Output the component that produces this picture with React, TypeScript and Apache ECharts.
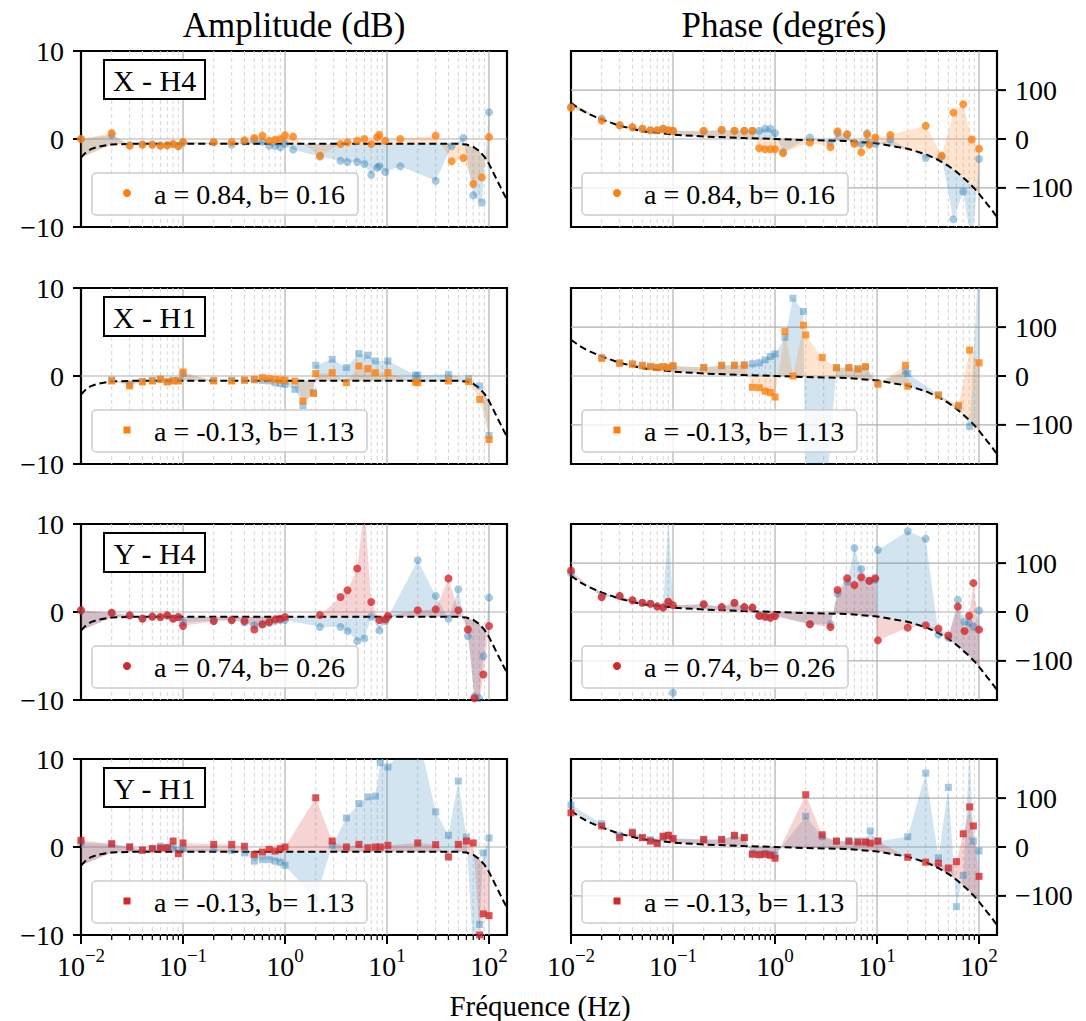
import React, { useEffect, useRef } from "react";
import * as echarts from "echarts";

const FONT = "Liberation Serif";
const ORANGE = "#ff7f0e";
const RED = "#d62728";
const BLUE = "#1f77b4";

// ---- model curves (dashed) ----
const modelFreq = [0.01, 0.011, 0.0125, 0.015, 0.02, 0.03, 0.05, 0.1, 0.2, 0.5, 1, 2, 5, 10, 20, 30, 40, 50, 60, 70, 80, 90, 100, 110, 120, 130, 140, 150];
const ampModel = [-2.1, -1.6, -1.15, -0.85, -0.62, -0.55, -0.53, -0.53, -0.53, -0.53, -0.53, -0.53, -0.53, -0.53, -0.53, -0.53, -0.53, -0.55, -0.63, -0.9, -1.35, -2.0, -2.85, -3.8, -4.7, -5.5, -6.25, -6.9];
const phaseModel = [74, 68, 60, 51, 40, 27, 16, 9, 5, 2, 0, -2, -4, -9, -20, -31, -43, -55, -67, -79, -90, -101, -112, -123, -133, -142, -151, -160];

// ---- X - H4 ----
const freqXH4 = [0.01, 0.02, 0.03, 0.04, 0.05, 0.06, 0.07, 0.08, 0.09, 0.1, 0.2, 0.3, 0.4, 0.5, 0.6, 0.7, 0.8, 0.9, 1.0, 1.2, 2.2, 3.5, 4.1, 5.1, 6, 7, 8, 8.4, 9.6, 13.5, 30, 43, 56, 70, 85, 100];
const xh4AmpMain = [0.0, 0.68, -0.76, -0.65, -0.65, -0.76, -0.72, -0.57, -0.83, -0.34, -0.34, -0.34, -0.15, 0.11, 0.38, -0.19, -0.08, 0.0, 0.42, 0.27, -1.9, -0.57, -0.38, -0.19, 0.0, -0.57, 0.19, 0.49, -0.19, 0.0, 0.38, -2.54, -2.16, -5.12, -4.36, 0.23];
const xh4AmpBlue = [0.0, 0.49, -0.7, -0.6, -0.6, -0.7, -0.7, -0.6, -0.8, -0.4, -0.4, -0.65, -0.3, -0.1, -0.3, -0.76, -0.76, -0.95, -0.53, -1.21, -2.0, -2.47, -2.62, -2.62, -2.85, -4.06, -3.23, -3.11, -3.76, -3.11, -4.74, -0.83, 0.11, -6.41, -7.21, 3.04];
const xh4PhaseMain = [64, 38, 28, 24, 21, 18, 18, 21, 18, 17, 17, 19, 17, 17, 17, -19, -21, -21, -21, -29, -7, -17, 16, 10, -10, -27, 9, -12, 3, 8, 27, -34, 54, 71, -1, -20];
const xh4PhaseBlue = [66, 42, 28, 24, 21, 18, 18, 21, 18, 17, 16, 18, 17, 17, 17, 17, 21, 21, 12, -27, 3, -7, 12, 9, -8, -10, 12, -8, -10, -1, -39, -36, -164, -108, -220, -41];

// ---- X - H1 ----
const freqXH1 = [0.02, 0.03, 0.04, 0.05, 0.06, 0.07, 0.08, 0.09, 0.1, 0.2, 0.3, 0.4, 0.5, 0.6, 0.7, 0.8, 0.9, 1.0, 1.25, 1.5, 1.9, 2.0, 2.9, 4, 5.3, 6.5, 7.7, 10.2, 19, 20, 40, 63, 81, 100];
const xh1AmpMain = [-0.57, -1.14, -0.68, -0.57, -0.38, -0.68, -0.57, -0.57, 0.46, -0.57, -0.57, -0.46, -0.38, -0.19, -0.3, -0.38, -0.46, -0.46, -0.57, -2.85, -1.98, 0.27, 0.38, -0.76, 1.14, 0.84, 0.38, 0.38, -0.7, -0.76, -0.57, -0.65, -2.66, -7.22];
const xh1AmpBlue = [-0.46, -1.0, -0.6, -0.5, -0.35, -0.6, -0.5, -0.5, 0.3, -0.5, -0.5, -0.5, -0.46, -0.5, -0.57, -0.76, -0.85, -0.95, -1.52, -3.35, -1.9, 1.22, 1.9, 0.95, 2.55, 2.36, 1.71, 1.71, 0.1, 0.08, 0.19, -0.3, -1.14, -6.77];
const xh1PhaseMain = [36, 26, 24, 21, 19, 17, 19, 17, 21, 17, 22, 22, 22, -23, -24, -31, -34, -43, 91, 0, 104, 84, 38, 17, 17, 14, 19, -17, 22, -21, -40, -60, 53, 27];
const xh1PhaseBlue = [38, 27, 25, 22, 20, 18, 19, 18, 20, 18, 21, 22, 23, 25, 27, 33, 40, 45, 79, 159, 132, -350, -350, 17, 17, 15, 19, -14, 10, 5, -38, -63, -103, 250];

// ---- Y - H4 ----
const freqYH4 = [0.01, 0.02, 0.03, 0.04, 0.05, 0.06, 0.07, 0.08, 0.09, 0.1, 0.2, 0.3, 0.4, 0.5, 0.6, 0.7, 0.8, 0.9, 1.0, 2.2, 3.5, 4.1, 5.1, 6, 7, 8.4, 9.6, 10.2, 20, 30, 40, 50, 62, 72, 80, 88, 100];
const yh4AmpMain = [0.23, -0.08, -0.38, -0.76, -0.53, -0.57, -0.38, -0.76, -0.57, -1.6, -1.03, -0.91, -1.03, -1.98, -1.41, -1.14, -0.84, -0.76, -0.57, -0.34, 1.71, 2.47, 4.94, 12, 1.14, -0.91, -0.84, -0.46, 0.19, 0.3, 3.8, 0.19, -1.98, -9.8, -10.5, -7.1, -1.6];
const yh4AmpBlue = [0.1, -0.1, -0.4, -0.7, -0.5, -0.6, -0.4, -0.7, -0.6, -1.2, -1.0, -0.95, -1.2, -1.52, -1.4, -1.25, -1.0, -0.9, -0.91, -1.71, -1.71, -2.17, -3.31, -3.0, -0.53, -2.09, -1.03, -0.6, 5.89, 1.83, -0.76, 2.59, -2.74, -9.6, -9.8, -5.02, 1.63];
const yh4PhaseMain = [85, 30, 33, 24, 19, 17, 11, 9, 21, 14, 16, 10, 19, 10, 9, -8, -10, -12, -8, -25, -31, 45, 69, 55, 71, 64, 69, -58, -32, -27, -34, -48, 11, -39, -8, 59, -36];
const yh4PhaseBlue = [80, 32, 32, 24, 19, 17, 12, 10, 20, -165, 16, 10, 18, 10, 9, -8, -9, -11, -8, -25, -25, 38, 62, 131, 88, 64, 66, 127, 165, 150, -46, -53, 25, -20, -22, -30, 3];
const yh4PhaseBlueFill = [80, 32, 32, 24, 19, 17, 12, 10, 195, 14, 16, 10, 18, 10, 9, -8, -9, -11, -8, -25, -25, 38, 62, 131, 88, 64, 66, 127, 165, 150, -46, -53, 25, -20, -22, -30, 3];

// ---- Y - H1 ----
const freqYH1 = [0.01, 0.02, 0.03, 0.04, 0.05, 0.06, 0.07, 0.08, 0.09, 0.1, 0.2, 0.3, 0.4, 0.5, 0.6, 0.7, 0.8, 0.9, 1.0, 2.0, 2.9, 4, 5.3, 6.5, 7.7, 8.6, 10.2, 20, 30, 40, 50, 60, 70, 81, 88, 100];
const yh1AmpMain = [0.76, 0.38, 0, -0.38, -0.19, -0.11, -0.08, 0.68, -0.76, 0.46, 0.3, 0.3, 0.08, -0.84, -0.57, -0.27, -0.46, -0.19, 0, 5.59, 0.68, 0, 0.3, -0.08, 0, 0, 0.19, 0.46, 0.27, -1.14, 0.3, 0.68, 0.46, -10.0, -7.6, -7.8];
const yh1AmpBlue = [0.5, 0.3, 0.0, -0.3, -0.2, 0.1, -0.1, 0.0, -0.38, -0.2, -0.2, -0.38, -0.68, -1.6, -1.44, -1.44, -1.6, -1.75, -2.09, -5.9, 0.19, 3.3, 4.94, 5.7, 5.78, 9.58, 9.1, 13, 4.0, 1.33, 7.49, 1.14, -12, -8.8, -0.68, 1.03];
const yh1PhaseMain = [70, 43, 19, 29, 19, 12, 7, 22, 24, 17, 15, 15, 24, 19, -15, -16, -15, -17, -23, 107, 25, 12, 12, 10, 10, 8, 12, -21, -31, -33, -43, -30, 27, 82, 43, -60];
const yh1PhaseBlue = [86, 48, 24, 31, 20, 15, 10, 20, 24, 18, 16, 16, 22, 20, -13, -15, -13, -15, -17, 63, 21, 12, 12, 12, 12, 33, 12, 21, 151, -22, 122, -122, -58, 200, 12, -8];

// ---- axes decorations ----
const majorTicks = [0.01, 0.1, 1, 10, 100];
const minorTicks = [0.02, 0.03, 0.04, 0.05, 0.06, 0.07, 0.08, 0.09, 0.2, 0.3, 0.4, 0.5, 0.6, 0.7, 0.8, 0.9, 2, 3, 4, 5, 6, 7, 8, 9, 20, 30, 40, 50, 60, 70, 80, 90];
const ampGridLines = [0];
const phaseGridLines = [-100, 0, 100];
const phaseTicks = [-100, 0, 100];

const titles = ["Amplitude (dB)", "Phase (degrés)"];
const xLabel = "Fréquence (Hz)";

type Panel = {
  label: string; legend: string; color: string; symbol: "circle" | "square";
  freq: number[]; main: number[]; blue: number[]; blueFill?: number[]; phase: boolean;
};

const panels: Panel[] = [
  { label: "X - H4", legend: "a = 0.84, b= 0.16", color: ORANGE, symbol: "circle", freq: freqXH4, main: xh4AmpMain, blue: xh4AmpBlue, phase: false },
  { label: "X - H4", legend: "a = 0.84, b= 0.16", color: ORANGE, symbol: "circle", freq: freqXH4, main: xh4PhaseMain, blue: xh4PhaseBlue, phase: true },
  { label: "X - H1", legend: "a = -0.13, b= 1.13", color: ORANGE, symbol: "square", freq: freqXH1, main: xh1AmpMain, blue: xh1AmpBlue, phase: false },
  { label: "X - H1", legend: "a = -0.13, b= 1.13", color: ORANGE, symbol: "square", freq: freqXH1, main: xh1PhaseMain, blue: xh1PhaseBlue, phase: true },
  { label: "Y - H4", legend: "a = 0.74, b= 0.26", color: RED, symbol: "circle", freq: freqYH4, main: yh4AmpMain, blue: yh4AmpBlue, phase: false },
  { label: "Y - H4", legend: "a = 0.74, b= 0.26", color: RED, symbol: "circle", freq: freqYH4, main: yh4PhaseMain, blue: yh4PhaseBlue, blueFill: yh4PhaseBlueFill, phase: true },
  { label: "Y - H1", legend: "a = -0.13, b= 1.13", color: RED, symbol: "square", freq: freqYH1, main: yh1AmpMain, blue: yh1AmpBlue, phase: false },
  { label: "Y - H1", legend: "a = -0.13, b= 1.13", color: RED, symbol: "square", freq: freqYH1, main: yh1PhaseMain, blue: yh1PhaseBlue, phase: true },
];

const ROW_TOP = [51, 288, 524, 759];
const COL_LEFT = [81, 571];
const GW = 426;
const GH = 176;

function hexA(hex: string, a: number) {
  const n = parseInt(hex.slice(1), 16);
  return `rgba(${(n >> 16) & 255},${(n >> 8) & 255},${n & 255},${a})`;
}

function modelAt(f: number, vals: number[]) {
  const lf = Math.log10(f);
  for (let i = 0; i < modelFreq.length - 1; i++) {
    const a = Math.log10(modelFreq[i]);
    const b = Math.log10(modelFreq[i + 1]);
    if (lf <= b) {
      const t = (lf - a) / (b - a);
      return vals[i] + t * (vals[i + 1] - vals[i]);
    }
  }
  return vals[vals.length - 1];
}

function clipHalf(pts: number[][], yb: number, keepGreater: boolean) {
  const out: number[][] = [];
  const ins = (p: number[]) => (keepGreater ? p[1] >= yb : p[1] <= yb);
  const inter = (a: number[], b: number[]) => [a[0] + ((b[0] - a[0]) * (yb - a[1])) / (b[1] - a[1]), yb];
  for (let i = 0; i < pts.length; i++) {
    const cur = pts[i];
    const prev = pts[(i + pts.length - 1) % pts.length];
    const ci = ins(cur), pi = ins(prev);
    if (ci) {
      if (!pi) out.push(inter(prev, cur));
      out.push(cur);
    } else if (pi) out.push(inter(prev, cur));
  }
  return out;
}

const yFmt = (v: number) => String(v).replace("-", "−");

function decoRender(isPhase: boolean, isBottom: boolean) {
  return (params: any, api: any) => {
    const cs = params.coordSys;
    const x0 = cs.x, y0 = cs.y, w = cs.width, h = cs.height;
    const ch: any[] = [];
    minorTicks.forEach((f) => {
      const px = api.coord([f, 0])[0];
      ch.push({ type: "line", shape: { x1: px, y1: y0, x2: px, y2: y0 + h }, style: { stroke: "#d6d6d6", lineWidth: 1, lineDash: [4, 3] } });
      if (isBottom) ch.push({ type: "line", shape: { x1: px, y1: y0 + h, x2: px, y2: y0 + h + 5 }, style: { stroke: "#000", lineWidth: 1.3 } });
    });
    majorTicks.forEach((f) => {
      const px = api.coord([f, 0])[0];
      if (f > 0.011) ch.push({ type: "line", shape: { x1: px, y1: y0, x2: px, y2: y0 + h }, style: { stroke: "#b0b0b0", lineWidth: 1.2 } });
      if (isBottom) ch.push({ type: "line", shape: { x1: px, y1: y0 + h, x2: px, y2: y0 + h + 9 }, style: { stroke: "#000", lineWidth: 2 } });
    });
    (isPhase ? phaseGridLines : ampGridLines).forEach((v) => {
      const py = api.coord([1, v])[1];
      ch.push({ type: "line", shape: { x1: x0, y1: py, x2: x0 + w, y2: py }, style: { stroke: "#b0b0b0", lineWidth: 1.2 } });
    });
    if (isPhase) {
      phaseTicks.forEach((v) => {
        const py = api.coord([1, v])[1];
        ch.push({ type: "line", shape: { x1: x0 + w, y1: py, x2: x0 + w + 9, y2: py }, style: { stroke: "#000", lineWidth: 2 } });
        ch.push({
          type: "text", x: x0 + w + 18, y: py,
          style: { text: yFmt(v), fontSize: 28, fontFamily: FONT, fill: "#000", textAlign: "left", align: "left", textVerticalAlign: "middle", verticalAlign: "middle" },
        });
      });
    }
    return { type: "group", children: ch };
  };
}

function fillRender(freq: number[], vals: number[], model: number[], color: string) {
  return (params: any, api: any) => {
    const cs = params.coordSys;
    const top = freq.map((f, k) => api.coord([f, vals[k]]));
    const bot = freq.map((f) => api.coord([f, modelAt(f, model)])).reverse();
    let pts = top.concat(bot);
    pts = clipHalf(pts, cs.y, true);
    pts = clipHalf(pts, cs.y + cs.height, false);
    if (pts.length < 3) return { type: "group", children: [] };
    return { type: "polygon", shape: { points: pts }, style: { fill: color, stroke: null } };
  };
}

const xFmt = (v: number) => {
  const e = Math.log10(v);
  const n = Math.round(e);
  if (Math.abs(e - n) > 1e-6) return "";
  const s = n < 0 ? "−" + -n : String(n);
  return `{b|10}{s|${s}}`;
};

function buildOption() {
  const grid: any[] = [], xAxis: any[] = [], yAxis: any[] = [], series: any[] = [], graphic: any[] = [];
  panels.forEach((p, i) => {
    const r = Math.floor(i / 2), c = i % 2;
    const gx = COL_LEFT[c], gy = ROW_TOP[r];
    const isBottom = r === 3;
    grid.push({ left: gx, top: gy, width: GW, height: GH, show: true, borderColor: "#000", borderWidth: 2.2, backgroundColor: "transparent" });
    xAxis.push({
      type: "log", gridIndex: i, min: 0.01, max: 150, logBase: 10,
      axisLine: { show: false }, axisTick: { show: false }, splitLine: { show: false },
      axisLabel: {
        show: isBottom, margin: 11, formatter: xFmt, color: "#000",
        rich: {
          b: { fontSize: 28, fontFamily: FONT, color: "#000", lineHeight: 40 },
          s: { fontSize: 19, fontFamily: FONT, color: "#000", verticalAlign: "top", lineHeight: 19 },
        },
      },
    });
    if (!p.phase) {
      yAxis.push({
        type: "value", gridIndex: i, min: -10, max: 10, interval: 10, position: "left",
        axisLine: { show: false }, splitLine: { show: false },
        axisTick: { show: true, length: 8, lineStyle: { color: "#000", width: 2 } },
        axisLabel: { margin: 17, fontSize: 28, fontFamily: FONT, color: "#000", formatter: yFmt },
      });
    } else {
      yAxis.push({
        type: "value", gridIndex: i, min: -180, max: 180, position: "right",
        axisLine: { show: false }, splitLine: { show: false }, axisTick: { show: false }, axisLabel: { show: false },
      });
    }
    const model = p.phase ? phaseModel : ampModel;
    const sym = p.symbol === "square" ? "rect" : "circle";
    const symSize = p.symbol === "square" ? 7 : 8;
    series.push({ type: "custom", xAxisIndex: i, yAxisIndex: i, data: [[1, 0]], z: 1, silent: true, clip: false, renderItem: decoRender(p.phase, isBottom) });
    series.push({ type: "custom", xAxisIndex: i, yAxisIndex: i, data: [[1, 0]], z: 2, silent: true, renderItem: fillRender(p.freq, p.blueFill || p.blue, model, hexA(BLUE, 0.2)) });
    series.push({ type: "custom", xAxisIndex: i, yAxisIndex: i, data: [[1, 0]], z: 2, silent: true, renderItem: fillRender(p.freq, p.main, model, hexA(p.color, 0.2)) });
    series.push({
      type: "line", xAxisIndex: i, yAxisIndex: i, z: 3, silent: true, clip: true, showSymbol: false, symbol: "none",
      data: modelFreq.map((f, k) => [f, model[k]]),
      lineStyle: { color: "#000", width: 2, type: [7, 4] },
    });
    series.push({
      type: "scatter", xAxisIndex: i, yAxisIndex: i, z: 4, silent: true, clip: true, symbol: sym, symbolSize: symSize,
      data: p.freq.map((f, k) => [f, p.blue[k]]), itemStyle: { color: hexA(BLUE, 0.5) },
    });
    series.push({
      type: "scatter", xAxisIndex: i, yAxisIndex: i, z: 5, silent: true, clip: true, symbol: sym, symbolSize: symSize,
      data: p.freq.map((f, k) => [f, p.main[k]]), itemStyle: { color: p.color },
    });

    // panel label box (left column only)
    if (!p.phase) {
      graphic.push({ type: "rect", z: 100, shape: { x: gx + 23, y: gy + 9, width: 101, height: 39 }, style: { fill: "#fff", stroke: "#000", lineWidth: 2 } });
      graphic.push({ type: "text", z: 101, x: gx + 73.5, y: gy + 29, style: { text: p.label, fontSize: 30, fontFamily: FONT, fill: "#000", textAlign: "center", align: "center", textVerticalAlign: "middle", verticalAlign: "middle" } });
    }
    // legend box
    const lw = p.legend.indexOf("-") >= 0 ? 275 : 266;
    const lx = gx + 11, ly = gy + 122;
    graphic.push({ type: "rect", z: 100, shape: { x: lx, y: ly, width: lw, height: 42, r: 4 }, style: { fill: "rgba(255,255,255,0.8)", stroke: "#cccccc", lineWidth: 1.5 } });
    if (p.symbol === "square") {
      graphic.push({ type: "rect", z: 101, shape: { x: lx + 35 - 3.5, y: ly + 20 - 3.5, width: 7, height: 7 }, style: { fill: p.color } });
    } else {
      graphic.push({ type: "circle", z: 101, shape: { cx: lx + 35, cy: ly + 20, r: 4 }, style: { fill: p.color } });
    }
    graphic.push({ type: "text", z: 101, x: lx + 62, y: ly + 21, style: { text: p.legend, fontSize: 28, fontFamily: FONT, fill: "#000", textAlign: "left", align: "left", textVerticalAlign: "middle", verticalAlign: "middle" } });
  });

  graphic.push({ type: "text", x: COL_LEFT[0] + GW / 2, y: 25, style: { text: titles[0], fontSize: 35, fontFamily: FONT, fill: "#000", textAlign: "center", align: "center", textVerticalAlign: "middle", verticalAlign: "middle" } });
  graphic.push({ type: "text", x: COL_LEFT[1] + GW / 2, y: 25, style: { text: titles[1], fontSize: 35, fontFamily: FONT, fill: "#000", textAlign: "center", align: "center", textVerticalAlign: "middle", verticalAlign: "middle" } });
  graphic.push({ type: "text", x: 540, y: 1006, style: { text: xLabel, fontSize: 29, fontFamily: FONT, fill: "#000", textAlign: "center", align: "center", textVerticalAlign: "middle", verticalAlign: "middle" } });

  return {
    animation: false,
    backgroundColor: "#fff",
    textStyle: { fontFamily: FONT },
    grid, xAxis, yAxis, series, graphic,
  };
}

export default function App() {
  const ref = useRef<HTMLDivElement>(null);
  useEffect(() => {
    const chart = echarts.init(ref.current!, null, { renderer: "svg" });
    chart.setOption(buildOption() as any);
    return () => chart.dispose();
  }, []);
  return <div ref={ref} style={{ position: "absolute", left: 0, top: 0, width: 1086, height: 1021, background: "#fff" }} />;
}
